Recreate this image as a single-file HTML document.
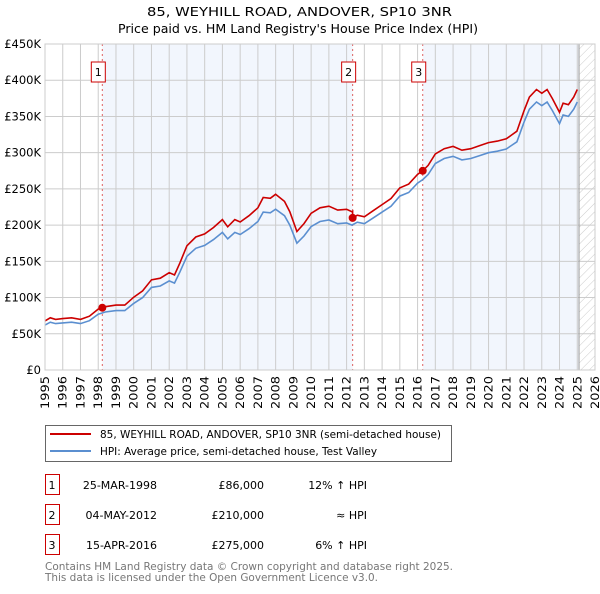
<!DOCTYPE html>
<html><head><meta charset="utf-8"><style>
body{margin:0;background:#fff;font-family:"DejaVu Sans","Liberation Sans",sans-serif;}
svg text{font-family:"DejaVu Sans","Liberation Sans",sans-serif;}
</style></head><body>
<svg id="c" width="600" height="590" viewBox="0 0 600 590" xmlns="http://www.w3.org/2000/svg">
<defs><pattern id="hatch" width="6" height="6" patternUnits="userSpaceOnUse" patternTransform="rotate(45)"><line x1="0" y1="0" x2="0" y2="6" stroke="#ccc" stroke-width="1"/></pattern></defs>
<text x="147" y="16" font-size="12.5" textLength="305" lengthAdjust="spacingAndGlyphs">85, WEYHILL ROAD, ANDOVER, SP10 3NR</text>
<text x="118" y="33" font-size="12.5" textLength="360" lengthAdjust="spacingAndGlyphs">Price paid vs. HM Land Registry's House Price Index (HPI)</text>
<g id="plot"></g>
<g>
<rect x="45.5" y="425.5" width="406" height="36" fill="#fff" stroke="#666"/>
<line x1="50" y1="434" x2="91" y2="434" stroke="#cc0000" stroke-width="2"/>
<text x="100" y="438" font-size="11" textLength="341" lengthAdjust="spacingAndGlyphs">85, WEYHILL ROAD, ANDOVER, SP10 3NR (semi-detached house)</text>
<line x1="50" y1="451" x2="91" y2="451" stroke="#5b8fd0" stroke-width="2"/>
<text x="100" y="455" font-size="11" textLength="277" lengthAdjust="spacingAndGlyphs">HPI: Average price, semi-detached house, Test Valley</text>
</g>
<g id="table" font-size="11"></g>
<text x="45" y="570" font-size="11" fill="#777" textLength="408" lengthAdjust="spacingAndGlyphs">Contains HM Land Registry data © Crown copyright and database right 2025.</text>
<text x="45" y="581" font-size="11" fill="#777" textLength="333" lengthAdjust="spacingAndGlyphs">This data is licensed under the Open Government Licence v3.0.</text>
</svg>
<script>
const years=[1995,1996,1997,1998,1999,2000,2001,2002,2003,2004,2005,2006,2007,2008,2009,2010,2011,2012,2013,2014,2015,2016,2017,2018,2019,2020,2021,2022,2023,2024,2025,2026];
const yTicks=[0,50000,100000,150000,200000,250000,300000,350000,400000,450000];
const yTickLabels=["£0","£50K","£100K","£150K","£200K","£250K","£300K","£350K","£400K","£450K"];
const hpiT=[1995,1995.3,1995.6,1996,1996.5,1997,1997.5,1998,1998.4,1999,1999.5,2000,2000.5,2001,2001.5,2002,2002.3,2002.6,2003,2003.5,2004,2004.5,2005,2005.3,2005.7,2006,2006.5,2007,2007.3,2007.7,2008,2008.5,2008.8,2009.2,2009.6,2010,2010.5,2011,2011.5,2012,2012.3,2012.6,2013,2013.5,2014,2014.5,2015,2015.5,2016,2016.3,2016.6,2017,2017.5,2018,2018.5,2019,2019.5,2020,2020.5,2021,2021.3,2021.6,2022,2022.3,2022.7,2023,2023.3,2023.6,2024,2024.2,2024.5,2024.8,2025];
const hpiV=[62,66,64,65,66,64,68,77,80,82,82,92,100,114,116,123,120,135,157,168,172,180,190,181,190,187,195,205,218,217,222,213,200,175,185,198,205,207,202,203,200,204,202,210,218,226,240,245,258,263,270,285,292,295,290,292,296,300,302,305,310,315,342,360,370,365,370,358,340,352,350,360,370];
const saleT=[1998.23,2012.34,2016.29];
const saleP=[86000,210000,275000];
const saleLbl=["1","2","3"];
const saleDates=["25-MAR-1998","04-MAY-2012","15-APR-2016"];
const salePrices=["£86,000","£210,000","£275,000"];
const saleRel=["12% ↑ HPI","≈ HPI","6% ↑ HPI"];
const X0=45,X1=595,Y0=370,Y1=44;
const xs=t=>X0+(t-1995)/(2026-1995)*(X1-X0);
const ys=v=>Y0-v/450000*(Y0-Y1);
const NS="http://www.w3.org/2000/svg";
const plot=document.getElementById('plot');
function mk(tag,attrs,parent){const e=document.createElementNS(NS,tag);for(const k in attrs)e.setAttribute(k,attrs[k]);(parent||plot).appendChild(e);return e;}
function hpiAt(t){for(let i=1;i<hpiT.length;i++){if(t<=hpiT[i]){const f=(t-hpiT[i-1])/(hpiT[i]-hpiT[i-1]);return (hpiV[i-1]+f*(hpiV[i]-hpiV[i-1]))*1000;}}return hpiV[hpiV.length-1]*1000;}
let r=mk('rect',{x:xs(saleT[0]),y:Y1,width:xs(saleT[1])-xs(saleT[0]),height:Y0-Y1,fill:'#f2f6fd'});

r=mk('rect',{x:xs(saleT[2]),y:Y1,width:xs(2025.1)-xs(saleT[2]),height:Y0-Y1,fill:'#f2f6fd'});

r=mk('rect',{x:xs(2025.1),y:Y1,width:X1-xs(2025.1),height:Y0-Y1,fill:'url(#hatch)'});

years.forEach(y=>{const l=mk('line',{x1:xs(y),x2:xs(y),y1:Y1,y2:Y0,stroke:'#ccc'});

const t=mk('text',{x:0,y:0,'font-size':11.5,'text-anchor':'end',textLength:33,lengthAdjust:'spacingAndGlyphs',transform:`translate(${xs(y)+4},${Y0+6}) rotate(-90)`});t.textContent=y;
});
yTicks.forEach((v,i)=>{const l=mk('line',{x1:X0,x2:X1,y1:ys(v),y2:ys(v),stroke:'#ccc'});

const t=mk('text',{x:X0-4,y:ys(v)+4,'font-size':11.5,'text-anchor':'end'});t.textContent=yTickLabels[i];
});
let l=mk('line',{x1:xs(2025.1),x2:xs(2025.1),y1:Y1,y2:Y0,stroke:'#999'});

saleT.forEach((t,i)=>{const v=mk('line',{x1:xs(t),x2:xs(t),y1:Y1,y2:Y0,stroke:'#e06060','stroke-dasharray':'2,3'});

const b=mk('rect',{x:xs(t)-11,y:62,width:14,height:20,fill:'#fff',stroke:'#cc0000'});

const tx=mk('text',{x:xs(t)-4,y:76,'font-size':11,'text-anchor':'middle'});tx.textContent=saleLbl[i];
});
let d=hpiT.map((t,i)=>(i?'L':'M')+xs(t).toFixed(1)+','+ys(hpiV[i]*1000).toFixed(1)).join('');
let p=mk('path',{d:d,fill:'none',stroke:'#5b8fd0','stroke-width':1.6});

function ratioAt(t){let k=0;for(let i=0;i<saleT.length;i++)if(t>=saleT[i])k=i;return saleP[k]/hpiAt(saleT[k]);}
const pts=[];hpiT.forEach((t,i)=>{for(let j=0;j<saleT.length;j++){if(i>0&&hpiT[i-1]<saleT[j]&&t>saleT[j]){pts.push([saleT[j],hpiAt(saleT[j])*ratioAt(saleT[j]-1e-6)]);pts.push([saleT[j],saleP[j]]);}}pts.push([t,hpiV[i]*1000*ratioAt(t)]);});
d=pts.map((q,i)=>(i?'L':'M')+xs(q[0]).toFixed(1)+','+ys(q[1]).toFixed(1)).join('');
p=mk('path',{d:d,fill:'none',stroke:'#cc0000','stroke-width':1.6});

saleT.forEach((t,i)=>{const c=mk('circle',{cx:xs(t),cy:ys(saleP[i]),r:4,fill:'#cc0000'});
});
mk('rect',{x:X0,y:Y1,width:X1-X0,height:Y0-Y1,fill:'none',stroke:'#ccc'});
const tb=document.getElementById('table');
saleT.forEach((t,i)=>{const cy=485+i*30;
const b=mk('rect',{x:45.5,y:cy-10.5,width:14,height:20,fill:'#fff',stroke:'#cc0000'},tb);

const cells=[[52,'middle',saleLbl[i],'num'],[157,'end',saleDates[i],'date'],[264,'end',salePrices[i],'price'],[367,'end',saleRel[i],'hpi-comparison']];
cells.forEach(c=>{const e=mk('text',{x:c[0],y:cy+4,'text-anchor':c[1],'font-size':11},tb);e.textContent=c[2];
});});
</script>
</body></html>
